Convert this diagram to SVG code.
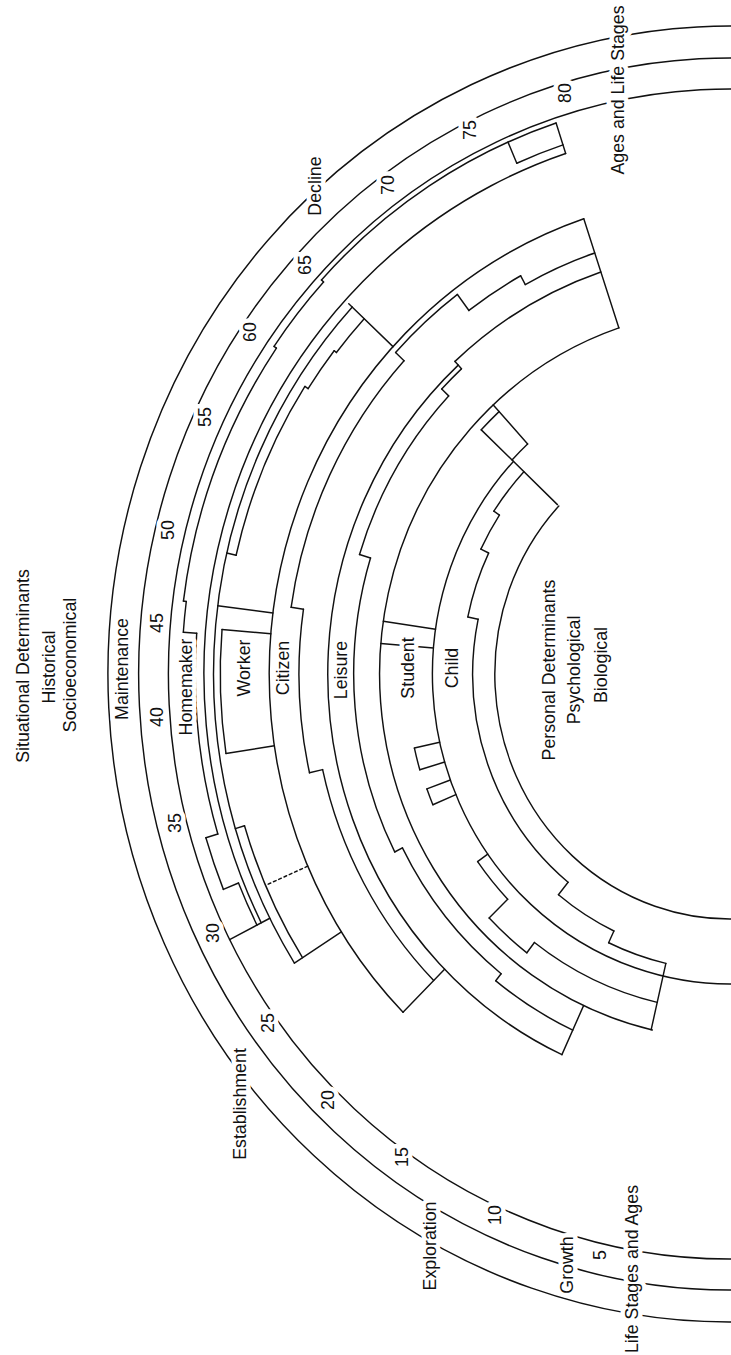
<svg xmlns="http://www.w3.org/2000/svg" width="731" height="1355" viewBox="0 0 731 1355">
<style>
.ln{fill:none;stroke:#111;stroke-width:1.5;stroke-linecap:round}
.t{font-family:"Liberation Sans",Arial,sans-serif;font-size:17.8px;fill:#111;text-anchor:middle;dominant-baseline:central;paint-order:stroke;stroke:#fff;stroke-width:9px;stroke-linejoin:round}
</style>
<rect width="731" height="1355" fill="#fff"/>
<g id="connectors" transform="translate(730,674) scale(0.96,1)">
<g id="stage-rings" class="ln">
<circle r="648" pathLength="360" stroke-dasharray="186 400" transform="rotate(87)"/>
<circle r="616" pathLength="360" stroke-dasharray="186 400" transform="rotate(87)"/>
<circle r="585" pathLength="360" stroke-dasharray="186 400" transform="rotate(87)"/>
</g>
<g id="homemaker-band" class="ln">
<circle r="548" pathLength="360" stroke-dasharray="98.8 400" transform="rotate(153)"/>
<line y1="548" y2="580" transform="rotate(161.8)"/>
<line y1="538" y2="585" transform="rotate(63)"/>
<circle r="553" pathLength="360" stroke-dasharray="4.8 400" transform="rotate(153)"/>
<line y1="553" y2="570" transform="rotate(67.8)"/>
<circle r="570" pathLength="360" stroke-dasharray="5.5 400" transform="rotate(157.8)"/>
<line y1="557" y2="570" transform="rotate(73.3)"/>
<circle r="557" pathLength="360" stroke-dasharray="20.9 400" transform="rotate(163.3)"/>
<line y1="557" y2="571" transform="rotate(94.2)"/>
<circle r="571" pathLength="360" stroke-dasharray="3.1 400" transform="rotate(184.2)"/>
<line y1="571" y2="574" transform="rotate(97.3)"/>
<circle r="574" pathLength="360" stroke-dasharray="27.3 400" transform="rotate(187.3)"/>
<line y1="574" y2="577" transform="rotate(124.6)"/>
<circle r="577" pathLength="360" stroke-dasharray="8.2 400" transform="rotate(214.6)"/>
<line y1="577" y2="580" transform="rotate(132.8)"/>
<circle r="580" pathLength="360" stroke-dasharray="29 400" transform="rotate(222.8)"/>
<line y1="557" y2="580" transform="rotate(156.5)"/>
<circle r="557" pathLength="360" stroke-dasharray="5.3 400" transform="rotate(246.5)"/>
</g>
<g id="worker-band" class="ln">
<circle r="538" pathLength="360" stroke-dasharray="75.5 400" transform="rotate(147.5)"/>
<circle r="480" pathLength="360" stroke-dasharray="116.3 400" transform="rotate(135.2)"/>
<line y1="480" y2="543" transform="rotate(133)"/>
<line y1="480" y2="538" transform="rotate(57.5)"/>
<circle r="528" pathLength="360" stroke-dasharray="15.8 400" transform="rotate(147.5)"/>
<line y1="528" y2="538" transform="rotate(73.3)"/>
<line y1="480" y2="528" transform="rotate(66.4)" stroke-dasharray="3 3"/>
<line y1="480" y2="531" transform="rotate(81.4)"/>
<circle r="531" pathLength="360" stroke-dasharray="13.4 400" transform="rotate(171.4)"/>
<line y1="480" y2="531" transform="rotate(94.8)"/>
<line y1="480" y2="538" transform="rotate(97.3)"/>
<line y1="528" y2="538" transform="rotate(103)"/>
<circle r="528" pathLength="360" stroke-dasharray="20 400" transform="rotate(193)"/>
<line y1="524" y2="528" transform="rotate(123)"/>
<circle r="524" pathLength="360" stroke-dasharray="5.1 400" transform="rotate(213)"/>
<line y1="521" y2="524" transform="rotate(128.1)"/>
<circle r="521" pathLength="360" stroke-dasharray="4.9 400" transform="rotate(218.1)"/>
</g>
<g id="citizen-band" class="ln">
<line y1="419" y2="480" transform="rotate(45.2)"/>
<circle r="435" pathLength="360" stroke-dasharray="32.1 400" transform="rotate(135.2)"/>
<line y1="435" y2="449" transform="rotate(77.3)"/>
<circle r="449" pathLength="360" stroke-dasharray="21 400" transform="rotate(167.3)"/>
<line y1="449" y2="462" transform="rotate(98.3)"/>
<circle r="462" pathLength="360" stroke-dasharray="34.4 400" transform="rotate(188.3)"/>
<line y1="462" y2="474" transform="rotate(132.7)"/>
<circle r="474" pathLength="360" stroke-dasharray="10.5 400" transform="rotate(222.7)"/>
<line y1="454" y2="474" transform="rotate(143.2)"/>
<circle r="454" pathLength="360" stroke-dasharray="8.1 400" transform="rotate(233.2)"/>
<line y1="444" y2="454" transform="rotate(151.3)"/>
<circle r="444" pathLength="360" stroke-dasharray="10.2 400" transform="rotate(241.3)"/>
<line y1="365" y2="480" transform="rotate(161.5)"/>
</g>
<g id="leisure-band" class="ln">
<circle r="419" pathLength="360" stroke-dasharray="112.8 400" transform="rotate(114.7)"/>
<line y1="365" y2="419" transform="rotate(24.7)"/>
<circle r="392" pathLength="360" stroke-dasharray="13.8 400" transform="rotate(114.7)"/>
<line y1="383" y2="392" transform="rotate(38.5)"/>
<circle r="383" pathLength="360" stroke-dasharray="24.5 400" transform="rotate(128.5)"/>
<line y1="383" y2="392" transform="rotate(63)"/>
<circle r="392" pathLength="360" stroke-dasharray="44.2 400" transform="rotate(153)"/>
<line y1="392" y2="404" transform="rotate(107.2)"/>
<circle r="404" pathLength="360" stroke-dasharray="26.3 400" transform="rotate(197.2)"/>
<line y1="404" y2="414" transform="rotate(133.5)"/>
<circle r="414" pathLength="360" stroke-dasharray="4 400" transform="rotate(223.5)"/>
<line y1="414" y2="424" transform="rotate(137.5)"/>
<circle r="424" pathLength="360" stroke-dasharray="24 400" transform="rotate(227.5)"/>
</g>
<g id="student-band" class="ln">
<circle r="365" pathLength="360" stroke-dasharray="148.7 400" transform="rotate(102.8)"/>
<line y1="297" y2="365" transform="rotate(13)"/>
<circle r="337" pathLength="360" stroke-dasharray="24.2 400" transform="rotate(103)"/>
<line y1="337" y2="350" transform="rotate(37.2)"/>
<circle r="350" pathLength="360" stroke-dasharray="8.6 400" transform="rotate(127.2)"/>
<line y1="323" y2="350" transform="rotate(45.8)"/>
<circle r="323" pathLength="360" stroke-dasharray="8.7 400" transform="rotate(135.8)"/>
<line y1="310" y2="323" transform="rotate(54.5)"/>
<circle r="336" pathLength="360" stroke-dasharray="2.9 400" transform="rotate(157.1)"/>
<line y1="310" y2="336" transform="rotate(67.1)"/>
<line y1="310" y2="336" transform="rotate(70)"/>
<circle r="337" pathLength="360" stroke-dasharray="3.8 400" transform="rotate(163.5)"/>
<line y1="310" y2="337" transform="rotate(73.5)"/>
<line y1="310" y2="337" transform="rotate(77.3)"/>
<line y1="310" y2="365" transform="rotate(94.8)"/>
<line y1="310" y2="365" transform="rotate(98.3)"/>
<line y1="312" y2="365" transform="rotate(137.5)"/>
<circle r="356" pathLength="360" stroke-dasharray="4.2 400" transform="rotate(223.3)"/>
<circle r="312" pathLength="360" stroke-dasharray="4.2 400" transform="rotate(223.3)"/>
<line y1="247" y2="356" transform="rotate(133.3)"/>
</g>
<g id="child-band" class="ln">
<circle r="310" pathLength="360" stroke-dasharray="136.3 400" transform="rotate(87)"/>
<circle r="245" pathLength="360" stroke-dasharray="136.3 400" transform="rotate(87)"/>
<circle r="297" pathLength="360" stroke-dasharray="12.2 400" transform="rotate(103)"/>
<line y1="284" y2="297" transform="rotate(25.2)"/>
<circle r="284" pathLength="360" stroke-dasharray="13.8 400" transform="rotate(115.2)"/>
<line y1="268" y2="284" transform="rotate(39)"/>
<circle r="268" pathLength="360" stroke-dasharray="62.8 400" transform="rotate(129)"/>
<line y1="268" y2="279" transform="rotate(101.8)"/>
<circle r="279" pathLength="360" stroke-dasharray="13.9 400" transform="rotate(191.8)"/>
<line y1="279" y2="288" transform="rotate(115.7)"/>
<circle r="288" pathLength="360" stroke-dasharray="7.8 400" transform="rotate(205.7)"/>
<line y1="288" y2="295" transform="rotate(123.5)"/>
<circle r="295" pathLength="360" stroke-dasharray="9.8 400" transform="rotate(213.5)"/>
</g>
</g>
<g id="labels">
<g id="situational"><text class="t" transform="translate(23,666) rotate(-90)">Situational Determinants</text>
<text class="t" transform="translate(49,667) rotate(-90)">Historical</text>
<text class="t" transform="translate(70,665) rotate(-90)">Socioeconomical</text></g>
<g id="personal"><text class="t" transform="translate(549,670) rotate(-90)">Personal Determinants</text>
<text class="t" transform="translate(574,670) rotate(-90)">Psychological</text>
<text class="t" transform="translate(601,665) rotate(-90)">Biological</text></g>
<g id="stages">
<text class="t" transform="translate(567,1265) rotate(-90)">Growth</text>
<text class="t" transform="translate(430,1246) rotate(-90)">Exploration</text>
<text class="t" transform="translate(240,1104) rotate(-90)">Establishment</text>
<text class="t" transform="translate(122,669) rotate(-90)">Maintenance</text>
<text class="t" transform="translate(315,186) rotate(-90)">Decline</text>
<text class="t" transform="translate(632,1269) rotate(-90)">Life Stages and Ages</text>
<text class="t" transform="translate(618,90) rotate(-90)">Ages and Life Stages</text>
</g>
<g id="ages">
<text class="t" transform="translate(600,1255) rotate(-90)">5</text>
<text class="t" transform="translate(495,1215) rotate(-90)">10</text>
<text class="t" transform="translate(402,1157) rotate(-90)">15</text>
<text class="t" transform="translate(328,1100) rotate(-90)">20</text>
<text class="t" transform="translate(268,1023) rotate(-90)">25</text>
<text class="t" transform="translate(213,933) rotate(-90)">30</text>
<text class="t" transform="translate(175,823) rotate(-90)">35</text>
<text class="t" transform="translate(157,717) rotate(-90)">40</text>
<text class="t" transform="translate(157,623) rotate(-90)">45</text>
<text class="t" transform="translate(168,530) rotate(-90)">50</text>
<text class="t" transform="translate(205,417) rotate(-90)">55</text>
<text class="t" transform="translate(250,332) rotate(-90)">60</text>
<text class="t" transform="translate(305,265) rotate(-90)">65</text>
<text class="t" transform="translate(388,185) rotate(-90)">70</text>
<text class="t" transform="translate(470,130) rotate(-90)">75</text>
<text class="t" transform="translate(565,93) rotate(-90)">80</text>
</g>
<g id="roles">
<text class="t" transform="translate(186,687) rotate(-90)">Homemaker</text>
<text class="t" transform="translate(244,668) rotate(-90)">Worker</text>
<text class="t" transform="translate(283,668) rotate(-90)">Citizen</text>
<text class="t" transform="translate(341,670) rotate(-90)">Leisure</text>
<text class="t" transform="translate(408,668) rotate(-90)">Student</text>
<text class="t" transform="translate(452,668) rotate(-90)">Child</text>
</g>
</g>
</svg>
